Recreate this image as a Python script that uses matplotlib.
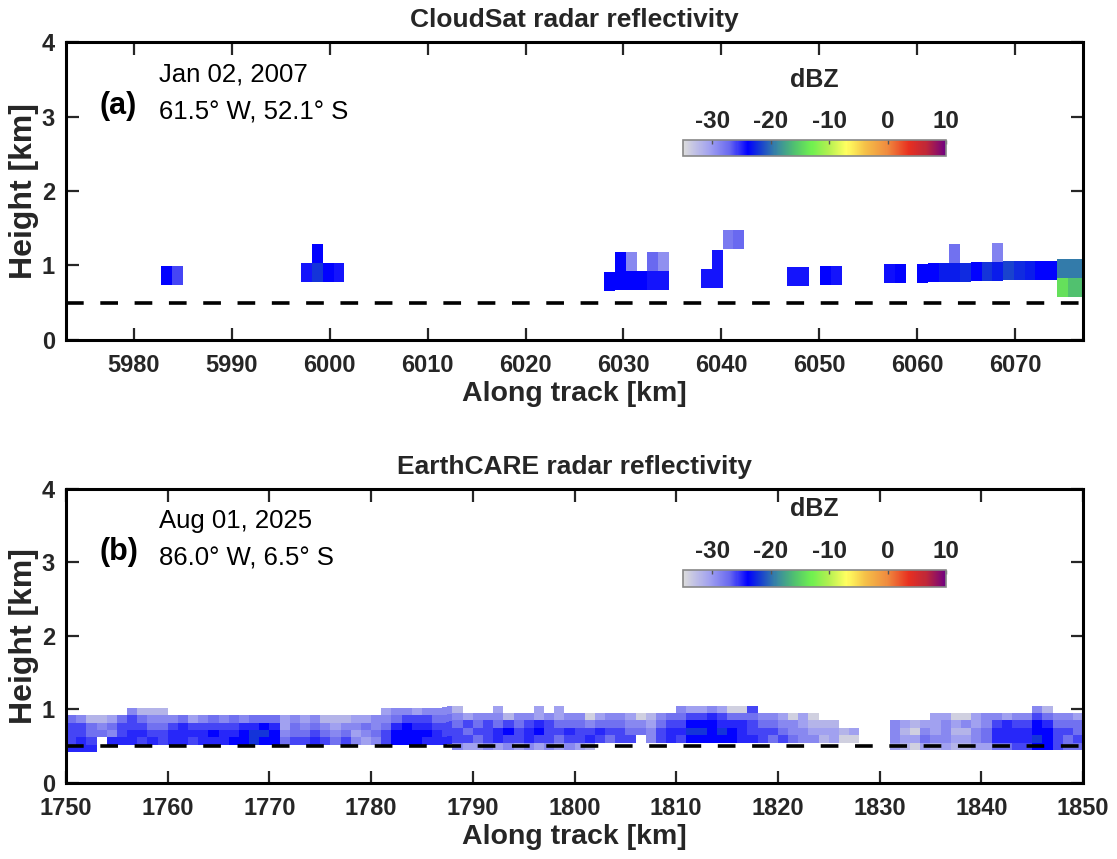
import numpy as np
import matplotlib
matplotlib.use('Agg')
import matplotlib.pyplot as plt
from matplotlib.colors import LinearSegmentedColormap, Normalize
from matplotlib.cm import ScalarMappable

plt.rcParams['font.family'] = ['Liberation Sans', 'DejaVu Sans']
plt.rcParams['axes.unicode_minus'] = False

# colour scale (dBZ -> colour)
cbar_dbz = [-35, -30.5, -27, -24, -21.7, -18.9, -16, -13, -10.2, -7, -3.8, -0.3, 3.7, 6.6, 10]
cbar_col = ['#dcdcdc', '#a0a0f0', '#6868f0', '#0000ff', '#1840d0', '#3a8aa0', '#50c070',
            '#70f050', '#b0f050', '#ffff60', '#f5c048', '#f09040', '#e83020', '#c02838', '#700080']
cbar_ticks = [-30, -20, -10, 0, 10]

# (a) CloudSat cells: left edge along track [km], bottom height [km], reflectivity [dBZ]
cs_x = [5982.8, 5983.9,
        5997.1, 5998.2, 5999.3, 6000.4, 5998.2,
        6028.05, 6029.15, 6030.25, 6031.35, 6032.45, 6033.55,
        6029.15, 6030.25, 6032.45, 6033.55,
        6037.93, 6039.03, 6039.03, 6040.13, 6041.23,
        6046.73, 6047.83, 6050.07, 6051.17, 6056.64, 6057.74,
        6059.98, 6061.08, 6062.18, 6063.28, 6064.38, 6065.48, 6066.58,
        6067.68, 6068.78, 6069.88, 6070.98, 6072.08, 6073.18,
        6063.28, 6067.68,
        6074.28, 6075.38, 6076.48, 6074.28, 6075.38, 6076.48]
cs_z = [0.74, 0.74,
        0.78, 0.78, 0.78, 0.78, 1.03,
        0.66, 0.67, 0.67, 0.67, 0.67, 0.67,
        0.92, 0.92, 0.92, 0.92,
        0.70, 0.70, 0.955, 1.225, 1.225,
        0.725, 0.725, 0.74, 0.74, 0.764, 0.764,
        0.77, 0.775, 0.78, 0.78, 0.785, 0.79, 0.79,
        0.795, 0.80, 0.80, 0.805, 0.81, 0.81,
        1.035, 1.05,
        0.826, 0.826, 0.826, 0.572, 0.572, 0.572]
cs_dbz = [-24, -26,
          -24.5, -22, -24, -24.5, -24,
          -24, -24, -24, -24, -24.5, -24.5,
          -24, -29, -27, -29.5,
          -24.5, -24.5, -24.5, -28, -27,
          -24.5, -24.5, -24, -24.5, -24.3, -24,
          -24, -24, -23, -23, -22.5, -24, -22,
          -23, -21.5, -22.5, -23, -24, -24,
          -27.5, -28.5,
          -19.5, -19.5, -19.5, -14, -16, -16]

# (b) EarthCARE grid: 1 km columns from 1750 km, 100 m bins above a base height
ec_edges = list(range(1750, 1851))
ec_base = [0.42] * 38 + [0.45] * 63
# one character per column, top bin first; '.' = no echo
ec_rows = [
    "......4222.....................3443444" "2...3...3.3." ".........." "43343116" ".........................." ".42...",
    "5422356544" "4534545455" "5343422233" "4456665543" "4442443434" "4134431245" "5667655544" "3131......" ".....33113" "4434465443",
    "6654566655" "6766666778" "7354543445" "4578776656" "5656567655" "5455544356" "6888777655" "443222...." ".432334343" "4676687555",
    "6655467766" "7777877899" "8455654534" "5688887665" "6678678667" "6676655467" "7998987666" "54433323.." ".421434224" "5777788665",
    "676.777676" "7767778898" "8566765643" "4688877766" "5676676656" "676566.467" "6888887765" "65442311.." ".433544334" "5777798656",
    "777......." ".........." ".........." "........43" "3434343434" "32........" ".........." ".........." ".3213232233" "556688655",
]
ec_code_dbz = {'1': -34, '2': -32, '3': -30.5, '4': -29, '5': -27.5,
               '6': -26, '7': -25, '8': -24, '9': -22}

cmap = LinearSegmentedColormap.from_list(
    'dbz', [((d - cbar_dbz[0]) / (cbar_dbz[-1] - cbar_dbz[0]), c) for d, c in zip(cbar_dbz, cbar_col)])
norm = Normalize(cbar_dbz[0], cbar_dbz[-1])

fig = plt.figure(figsize=(11.17, 8.59), dpi=100)
ax1 = fig.add_axes([0.0591, 0.6042, 0.9105, 0.3469])
ax2 = fig.add_axes([0.0591, 0.0885, 0.9105, 0.3423])

# CloudSat bins are 1.1 km x 240 m
ax1.bar(cs_x, 0.255, width=1.1, bottom=cs_z, align='edge',
        color=cmap(norm(np.array(cs_dbz))), linewidth=0, zorder=2)

Z = np.array([[ec_code_dbz.get(c, np.nan) for c in row] for row in ec_rows[::-1]])
X, K = np.meshgrid(ec_edges, np.arange(Z.shape[0] + 1))
Y = np.array(ec_base)[None, :] + 0.1 * K
ax2.pcolormesh(X, Y, np.ma.masked_invalid(Z), cmap=cmap, norm=norm, shading='flat', zorder=2)

tick_font = dict(family=['Liberation Sans Narrow', 'Liberation Sans', 'DejaVu Sans'], weight='bold', size=17)
panels = [
    (ax1, 'CloudSat radar reflectivity', (5973.06, 6076.94), np.arange(5980, 6071, 10),
     '(a)', 'Jan 02, 2007', '61.5\u00b0 W, 52.1\u00b0 S', [0.6115, 0.8184, 0.2355, 0.0190]),
    (ax2, 'EarthCARE radar reflectivity', (1750, 1850), np.arange(1750, 1851, 10),
     '(b)', 'Aug 01, 2025', '86.0\u00b0 W, 6.5\u00b0 S', [0.6115, 0.3166, 0.2355, 0.0198]),
]
for ax, title, xlim, xticks, tag, date, loc, cpos in panels:
    ax.axhline(0.5, color='k', lw=2.6, ls=(0, (4.9, 4.6)), zorder=5)
    ax.set_xlim(*xlim)
    ax.set_ylim(0, 4)
    ax.set_xticks(xticks)
    ax.set_yticks([0, 1, 2, 3, 4])
    ax.tick_params(direction='in', length=9, width=1.6, top=True, right=True, pad=8, colors='#262626')
    ax.tick_params(axis='x', pad=10)
    for lab in ax.get_xticklabels() + ax.get_yticklabels():
        lab.set(**tick_font)
    for s in ax.spines.values():
        s.set_linewidth(2.2)
    ax.set_title(title, fontsize=19, fontweight='bold', pad=11, color='#262626')
    ax.set_xlabel('Along track [km]', fontdict=tick_font | {'size': 20.5}, color='#262626', labelpad=3)
    ax.set_ylabel('Height [km]', fontdict=tick_font | {'size': 23}, color='#262626', labelpad=2)
    ax.text(0.033, 0.785, tag, transform=ax.transAxes, fontsize=22, fontweight='bold', va='center')
    ax.text(0.091, 0.89, date, transform=ax.transAxes, fontsize=18.5, va='center')
    ax.text(0.091, 0.765, loc, transform=ax.transAxes, fontsize=18.5, va='center')

    cax = fig.add_axes(cpos)
    cb = fig.colorbar(ScalarMappable(norm=norm, cmap=cmap), cax=cax, orientation='horizontal',
                      ticks=cbar_ticks)
    cax.xaxis.set_ticks_position('top')
    cax.tick_params(direction='in', length=3, width=1, colors='#555555', labelcolor='#262626',
                    labelsize=17.5, pad=5)
    for lab in cax.get_xticklabels():
        lab.set_fontweight('bold')
    cb.outline.set_edgecolor('#888888')
    cb.outline.set_linewidth(1.2)
    cax.text(0.5, 3.9, 'dBZ', transform=cax.transAxes, ha='center', va='bottom',
             fontsize=18, fontweight='bold', color='#262626')

fig.savefig('out.png', dpi=100)
